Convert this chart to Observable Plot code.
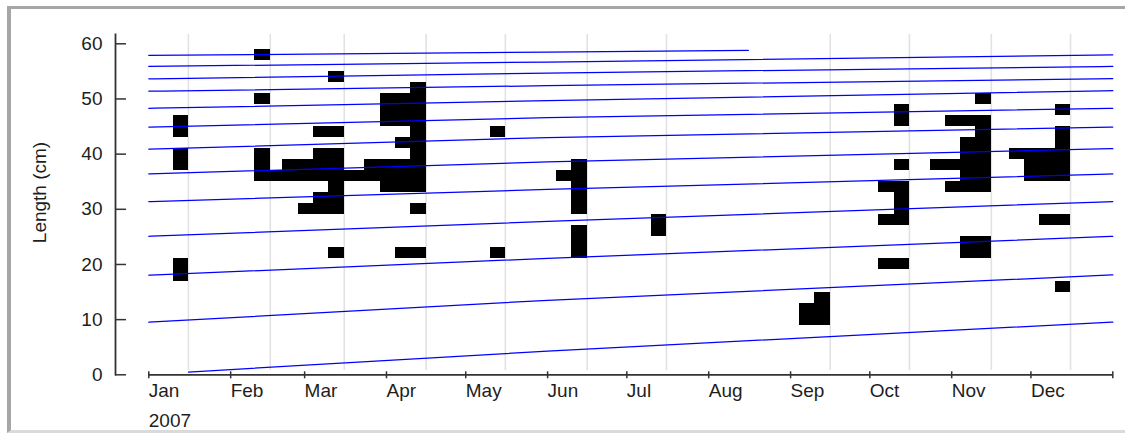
<!DOCTYPE html>
<html><head><meta charset="utf-8">
<script src="https://cdn.jsdelivr.net/npm/d3@7"></script>
<script src="https://cdn.jsdelivr.net/npm/@observablehq/plot@0.6"></script>
<style>
html,body{margin:0;padding:0;background:#fff;}
#wrap{position:relative;width:1125px;height:436px;overflow:hidden;background:#fff;}
#chart{position:absolute;left:0;top:0;}
#border{position:absolute;left:7px;top:6px;width:1125px;height:427px;border-top:3px solid #a6a6a6;border-left:4px solid #a6a6a6;border-bottom:3px solid #dadada;box-sizing:border-box;pointer-events:none;}
</style></head><body>
<div id="wrap"><div id="chart"></div><div id="border"></div></div>
<script>
// ---- data ----
const sampleDates = ["2007-01-16","2007-02-16","2007-03-16","2007-04-16","2007-05-16","2007-06-16","2007-07-16","2007-09-16","2007-10-16","2007-11-16","2007-12-16"];
const sampleLengths = [
  [18,20,38,40,44,46],
  [36,38,40,50,58],
  [22,30,32,34,36,38,40,44,54],
  [22,30,34,36,38,40,42,44,46,48,50,52],
  [22,44],
  [22,24,26,30,32,34,36,38],
  [26,28],
  [10,12,14],
  [20,28,30,32,34,38,46,48],
  [22,24,34,36,38,40,42,44,46,50],
  [16,28,36,38,40,42,44,48]
];
const sampleCounts = [
  [1,1,1,1,1,1],
  [1,1,1,1,1],
  [1,3,2,1,5,4,2,2,1],
  [2,1,3,6,4,1,2,1,3,3,3,1],
  [1,1],
  [1,1,1,1,1,1,2,1],
  [1,1],
  [2,2,1],
  [2,2,1,1,2,1,1,1],
  [2,2,3,2,4,2,2,1,3,1],
  [1,2,3,3,4,1,1,1]
];
const lengthClassWidth = 2;

const cohortYears = [1995,1996,1997,1998,1999,2000,2001,2002,2003,2004,2005,2006,2007];
const curveStartDates = ["2007-01-01","2007-01-01","2007-01-01","2007-01-01","2007-01-01","2007-01-01","2007-01-01","2007-01-01","2007-01-01","2007-01-01","2007-01-01","2007-01-01","2007-01-16"];
const curveMidDates = ["2007-06-01","2007-06-01","2007-06-01","2007-06-01","2007-06-01","2007-06-01","2007-06-01","2007-06-01","2007-06-01","2007-06-01","2007-06-01","2007-06-01","2007-06-01"];
const curveEndDates = ["2007-08-16","2008-01-01","2008-01-01","2008-01-01","2008-01-01","2008-01-01","2008-01-01","2008-01-01","2008-01-01","2008-01-01","2008-01-01","2008-01-01","2008-01-01"];
const curveStartLen = [57.9,55.9,53.65,51.4,48.3,44.9,40.9,36.4,31.4,25.1,18.05,9.55,0.5];
const curveMidLen   = [58.5,56.7,54.7,52.4,49.7,46.6,43.0,38.6,33.6,27.8,21.1,13.5,4.3];
const curveEndLen   = [58.8,58.0,55.9,53.7,51.5,48.3,44.9,41.0,36.4,31.4,25.1,18.1,9.55];

const monthTicks = ["2007-01-01","2007-02-01","2007-03-01","2007-04-01","2007-05-01","2007-06-01","2007-07-01","2007-08-01","2007-09-01","2007-10-01","2007-11-01","2007-12-01","2008-01-01"];
const monthLabels = ["Jan","Feb","Mar","Apr","May","Jun","Jul","Aug","Sep","Oct","Nov","Dec"];
const yTicks = [0,10,20,30,40,50,60];
const yearLabel = "2007";
const yLabel = "Length (cm)";

// ---- build ----
const parse = s => new Date(s + "T00:00:00Z");
const daysPerCount = 5.8;
const DAY = 864e5;
const bars = [];
sampleDates.forEach((s, i) => {
  const date = parse(s);
  sampleLengths[i].forEach((L, j) => bars.push({date, length: L, count: sampleCounts[i][j]}));
});
const curvePts = [];
cohortYears.forEach((c, i) => {
  curvePts.push({cohort: c, date: parse(curveStartDates[i]), len: curveStartLen[i]});
  curvePts.push({cohort: c, date: parse(curveMidDates[i]), len: curveMidLen[i]});
  curvePts.push({cohort: c, date: parse(curveEndDates[i]), len: curveEndLen[i]});
});
const ticks = monthTicks.map(parse);
const xStart = ticks[0], xEnd = ticks[ticks.length - 1];
const gridDates = sampleDates.map(parse);

const chart = Plot.plot({
  width: 1125, height: 436,
  marginLeft: 115, marginRight: 13, marginTop: 34, marginBottom: 62,
  style: {fontFamily: "'Liberation Sans', Arial, sans-serif", fontSize: "19px", color: "#1e1e1e", background: "transparent"},
  x: {type: "utc", domain: [xStart, xEnd], range: [148.3, 1112.3]},
  y: {domain: [0, 60], range: [374.3, 43.3]},
  marks: [
    Plot.ruleX(gridDates, {x: d => d, stroke: "#e2e2e2", strokeWidth: 1.6, insetBottom: 4}),
    Plot.rect(bars, {
      x1: d => new Date(+d.date - d.count * daysPerCount * DAY),
      x2: d => d.date,
      y1: d => d.length - lengthClassWidth / 2,
      y2: d => d.length + lengthClassWidth / 2,
      fill: "#000", shapeRendering: "crispEdges"
    }),
    Plot.line(curvePts, {x: "date", y: "len", z: "cohort", stroke: "#0000ff", strokeWidth: 1.25, curve: "monotone-x"}),
    Plot.frame({anchor: "left", stroke: "#333", strokeWidth: 1.8}),
    Plot.axisY(yTicks, {tickSize: 11, dx: 11, tickPadding: 13, stroke: "#333", strokeWidth: 1.5, label: null}),
    Plot.ruleY([0], {x1: () => xStart, x2: () => xEnd, stroke: "#333", strokeWidth: 1.8}),
    Plot.ruleX(ticks, {x: d => d, y1: 0, y2: 0, insetTop: -3, insetBottom: -4, stroke: "#333", strokeWidth: 1.5}),
    Plot.axisX(ticks.slice(0, 12), {tickSize: 0, tickPadding: 9, tickFormat: d => monthLabels[d.getUTCMonth()], textAnchor: "start", label: null}),
    Plot.text([yearLabel], {x: () => xStart, frameAnchor: "bottom", lineAnchor: "top", dy: 39, textAnchor: "start", text: d => d}),
    Plot.text([yLabel], {frameAnchor: "left", dx: -76, dy: -12, rotate: -90, textAnchor: "middle", lineAnchor: "middle", text: d => d})
  ]
});
document.getElementById("chart").appendChild(chart);
</script>
</body></html>
